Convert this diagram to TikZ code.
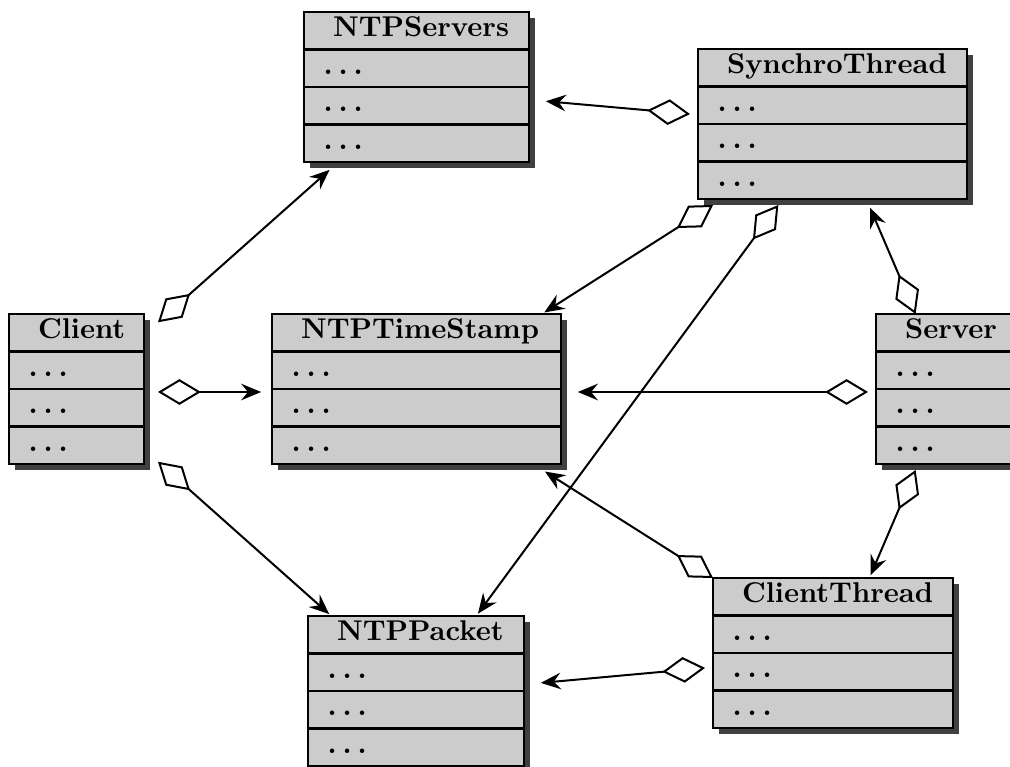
\documentclass[tikz,border=0pt]{standalone}
\usetikzlibrary{arrows.meta}

\definecolor{boxfill}{gray}{0.8}
\definecolor{boxshade}{gray}{0.25}

\tikzset{
  classbox/.style={draw=black, line width=0.75pt, fill=boxfill},
  classrule/.style={draw=black, line width=0.75pt},
  classshadow/.style={fill=boxshade},
  classtitle/.style={font=\bfseries, inner sep=0pt, anchor=base west},
  classrow/.style={font=\bfseries, inner sep=0pt, anchor=base west},
  classframe/.style={draw=none, rectangle, inner sep=0pt, outer sep=0pt},
  aggreg/.style={line width=0.7pt,
    arrows={Diamond[fill=white, length=15pt, width=9pt]-Stealth[length=7pt, width=5.8pt, inset=2.4pt]},
    shorten >=1pt},
}

% spaced ellipsis for the attribute rows
\newcommand{\rowdots}{.\hspace{2.05pt}.\hspace{2.05pt}.}

% UML class box: #1 name, #2 left, #3 top, #4 width, #5 class name
\newcommand{\umlclass}[5]{%
  \fill[classshadow] (#2+6,#3+6) rectangle ++(#4,150);
  \filldraw[classbox] (#2,#3) rectangle ++(#4,150);
  \foreach \k in {1,2,3} \draw[classrule] (#2,#3+\k*37.5) -- ++(#4,0);
  \node[classtitle] (#1-title) at (#2+28.5,#3+25) {#5};
  \foreach \k in {1,2,3}
    \node[classrow] (#1-row\k) at (#2+19,#3+\k*37.5+25) {\rowdots};
  \node[classframe, minimum width={(#4+22)*0.35pt}, minimum height={156*0.35pt}]
    (#1) at (#2+#4/2+3,#3+78) {};
}

\begin{document}
\begin{tikzpicture}[x=0.35pt, y=-0.35pt]
\useasboundingbox (0,0) rectangle (1010,767);
\clip (0,0) rectangle (1010,767);

\umlclass{servers}{304}{12}{225}{NTPServers}
\umlclass{synchro}{698}{49}{269}{SynchroThread}
\umlclass{client}{9}{314}{135}{Client}
\umlclass{stamp}{272}{314}{289}{NTPTimeStamp}
\umlclass{server}{876}{314}{140}{Server}
\umlclass{cthread}{713}{578}{240}{ClientThread}
\umlclass{packet}{308}{616}{216}{NTPPacket}

% aggregations
\draw[aggreg] (synchro) -- (servers);
\draw[aggreg] (client) -- (servers);
\draw[aggreg] (client) -- (stamp);
\draw[aggreg] (client) -- (packet);
\draw[aggreg] (synchro) -- (stamp);
\draw[aggreg] (synchro) -- (packet);
\draw[aggreg] (server) -- (synchro);
\draw[aggreg] (server) -- (stamp);
\draw[aggreg] (server) -- (cthread);
\draw[aggreg] (cthread) -- (stamp);
\draw[aggreg] (cthread) -- (packet);
\end{tikzpicture}
\end{document}
